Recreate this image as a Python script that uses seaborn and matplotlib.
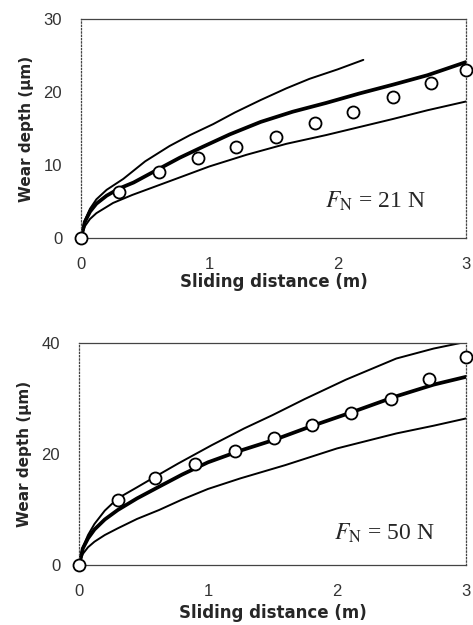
import numpy as np
import pandas as pd
import seaborn as sns
import matplotlib
matplotlib.use("Agg")
import matplotlib.pyplot as plt

# --- data ---
# F_N = 21 N
meas_x_21 = [0, 0.30, 0.61, 0.91, 1.21, 1.52, 1.82, 2.12, 2.43, 2.73, 3.0]
meas_y_21 = [0, 6.3, 9.1, 10.9, 12.4, 13.9, 15.8, 17.3, 19.3, 21.3, 23.0]
mean_x_21 = [0, 0.03, 0.07, 0.12, 0.2, 0.3, 0.41, 0.6, 0.77, 0.95, 1.16, 1.4, 1.65, 1.91, 2.17, 2.43, 2.7, 3.0]
mean_y_21 = [0, 2.2, 3.6, 4.7, 5.8, 6.8, 7.6, 9.4, 11.0, 12.5, 14.2, 15.9, 17.3, 18.5, 19.8, 21.0, 22.3, 24.1]
upper_x_21 = [0, 0.03, 0.07, 0.12, 0.2, 0.33, 0.5, 0.69, 0.85, 1.03, 1.2, 1.4, 1.6, 1.78, 2.0, 2.2]
upper_y_21 = [0, 2.4, 4.0, 5.3, 6.6, 8.1, 10.5, 12.6, 14.1, 15.6, 17.2, 18.9, 20.5, 21.8, 23.1, 24.4]
lower_x_21 = [0, 0.03, 0.07, 0.12, 0.25, 0.4, 0.57, 0.77, 1.0, 1.29, 1.6, 1.91, 2.17, 2.43, 2.7, 3.0]
lower_y_21 = [0, 1.6, 2.6, 3.4, 4.8, 5.9, 7.0, 8.3, 9.8, 11.4, 12.9, 14.1, 15.2, 16.3, 17.5, 18.7]

# F_N = 50 N
meas_x_50 = [0, 0.30, 0.59, 0.90, 1.21, 1.51, 1.81, 2.11, 2.42, 2.71, 3.0]
meas_y_50 = [0, 11.7, 15.7, 18.2, 20.5, 22.9, 25.2, 27.4, 29.9, 33.5, 37.4]
mean_x_50 = [0, 0.03, 0.07, 0.12, 0.2, 0.3, 0.45, 0.62, 0.8, 1.0, 1.25, 1.52, 1.8, 2.1, 2.46, 2.75, 3.0]
mean_y_50 = [0, 3.0, 4.8, 6.4, 8.2, 9.9, 12.0, 14.1, 16.3, 18.5, 20.6, 22.6, 25.0, 27.4, 30.4, 32.5, 33.9]
upper_x_50 = [0, 0.03, 0.07, 0.12, 0.2, 0.3, 0.45, 0.59, 0.77, 1.03, 1.28, 1.5, 1.75, 2.07, 2.46, 2.75, 3.0]
upper_y_50 = [0, 3.2, 5.4, 7.4, 9.8, 12.0, 14.0, 15.9, 18.3, 21.6, 24.6, 27.0, 29.9, 33.4, 37.2, 39.0, 40.2]
lower_x_50 = [0, 0.03, 0.07, 0.12, 0.2, 0.3, 0.45, 0.62, 0.8, 1.0, 1.25, 1.6, 2.0, 2.46, 2.75, 3.0]
lower_y_50 = [0, 2.0, 3.2, 4.2, 5.4, 6.6, 8.3, 9.9, 11.8, 13.7, 15.6, 18.0, 21.0, 23.7, 25.1, 26.4]

panels = [
    dict(mx=meas_x_21, my=meas_y_21, ax_=mean_x_21, ay=mean_y_21,
         ux=upper_x_21, uy=upper_y_21, lx=lower_x_21, ly=lower_y_21,
         ymax=30, yticks=[0, 10, 20, 30], label="$F_{\\rm N}$ = 21 N",
         txt=(1.90, 4.2), pos=[0.1712, 0.6192, 0.814, 0.3504], xpad=1),
    dict(mx=meas_x_50, my=meas_y_50, ax_=mean_x_50, ay=mean_y_50,
         ux=upper_x_50, uy=upper_y_50, lx=lower_x_50, ly=lower_y_50,
         ymax=40, yticks=[0, 20, 40], label="$F_{\\rm N}$ = 50 N",
         txt=(1.98, 4.5), pos=[0.167, 0.096, 0.818, 0.3552], xpad=4),
]

sns.set_style("white")
plt.rcParams["font.family"] = ["Liberation Sans", "DejaVu Sans"]
plt.rcParams["mathtext.fontset"] = "stix"

fig = plt.figure(figsize=(4.73, 6.25), dpi=100)

for p in panels:
    ax = fig.add_axes(p["pos"])
    sns.lineplot(x=p["ux"], y=p["uy"], ax=ax, color="black", linewidth=1.4, sort=False)
    sns.lineplot(x=p["lx"], y=p["ly"], ax=ax, color="black", linewidth=1.4, sort=False)
    sns.lineplot(x=p["ax_"], y=p["ay"], ax=ax, color="black", linewidth=2.7, sort=False)
    sns.scatterplot(x=p["mx"], y=p["my"], ax=ax, s=75, facecolor="white",
                    edgecolor="black", linewidth=1.3, zorder=5, clip_on=False)

    ax.set_xlim(0, 3)
    ax.set_ylim(0, p["ymax"])
    ax.set_xticks([0, 1, 2, 3])
    ax.set_yticks(p["yticks"])
    ax.tick_params(direction="inout", length=3, width=0.8, labelsize=12,
                   pad=12, colors="#333333")
    for side in ["left", "right"]:
        ax.spines[side].set_linestyle(":")
    for s in ax.spines.values():
        s.set_linewidth(0.9)
        s.set_color("#444444")

    ax.set_xlabel("Sliding distance (m)", fontsize=12, fontweight="bold",
                  family="DejaVu Sans", labelpad=p["xpad"])
    ax.set_ylabel("Wear depth (\u03bcm)", fontsize=11, fontweight="bold",
                  family="DejaVu Sans", labelpad=7)
    ax.text(p["txt"][0], p["txt"][1], p["label"], fontsize=17,
            family="Liberation Serif", ha="left", va="baseline")

fig.savefig("out.png", dpi=100)
